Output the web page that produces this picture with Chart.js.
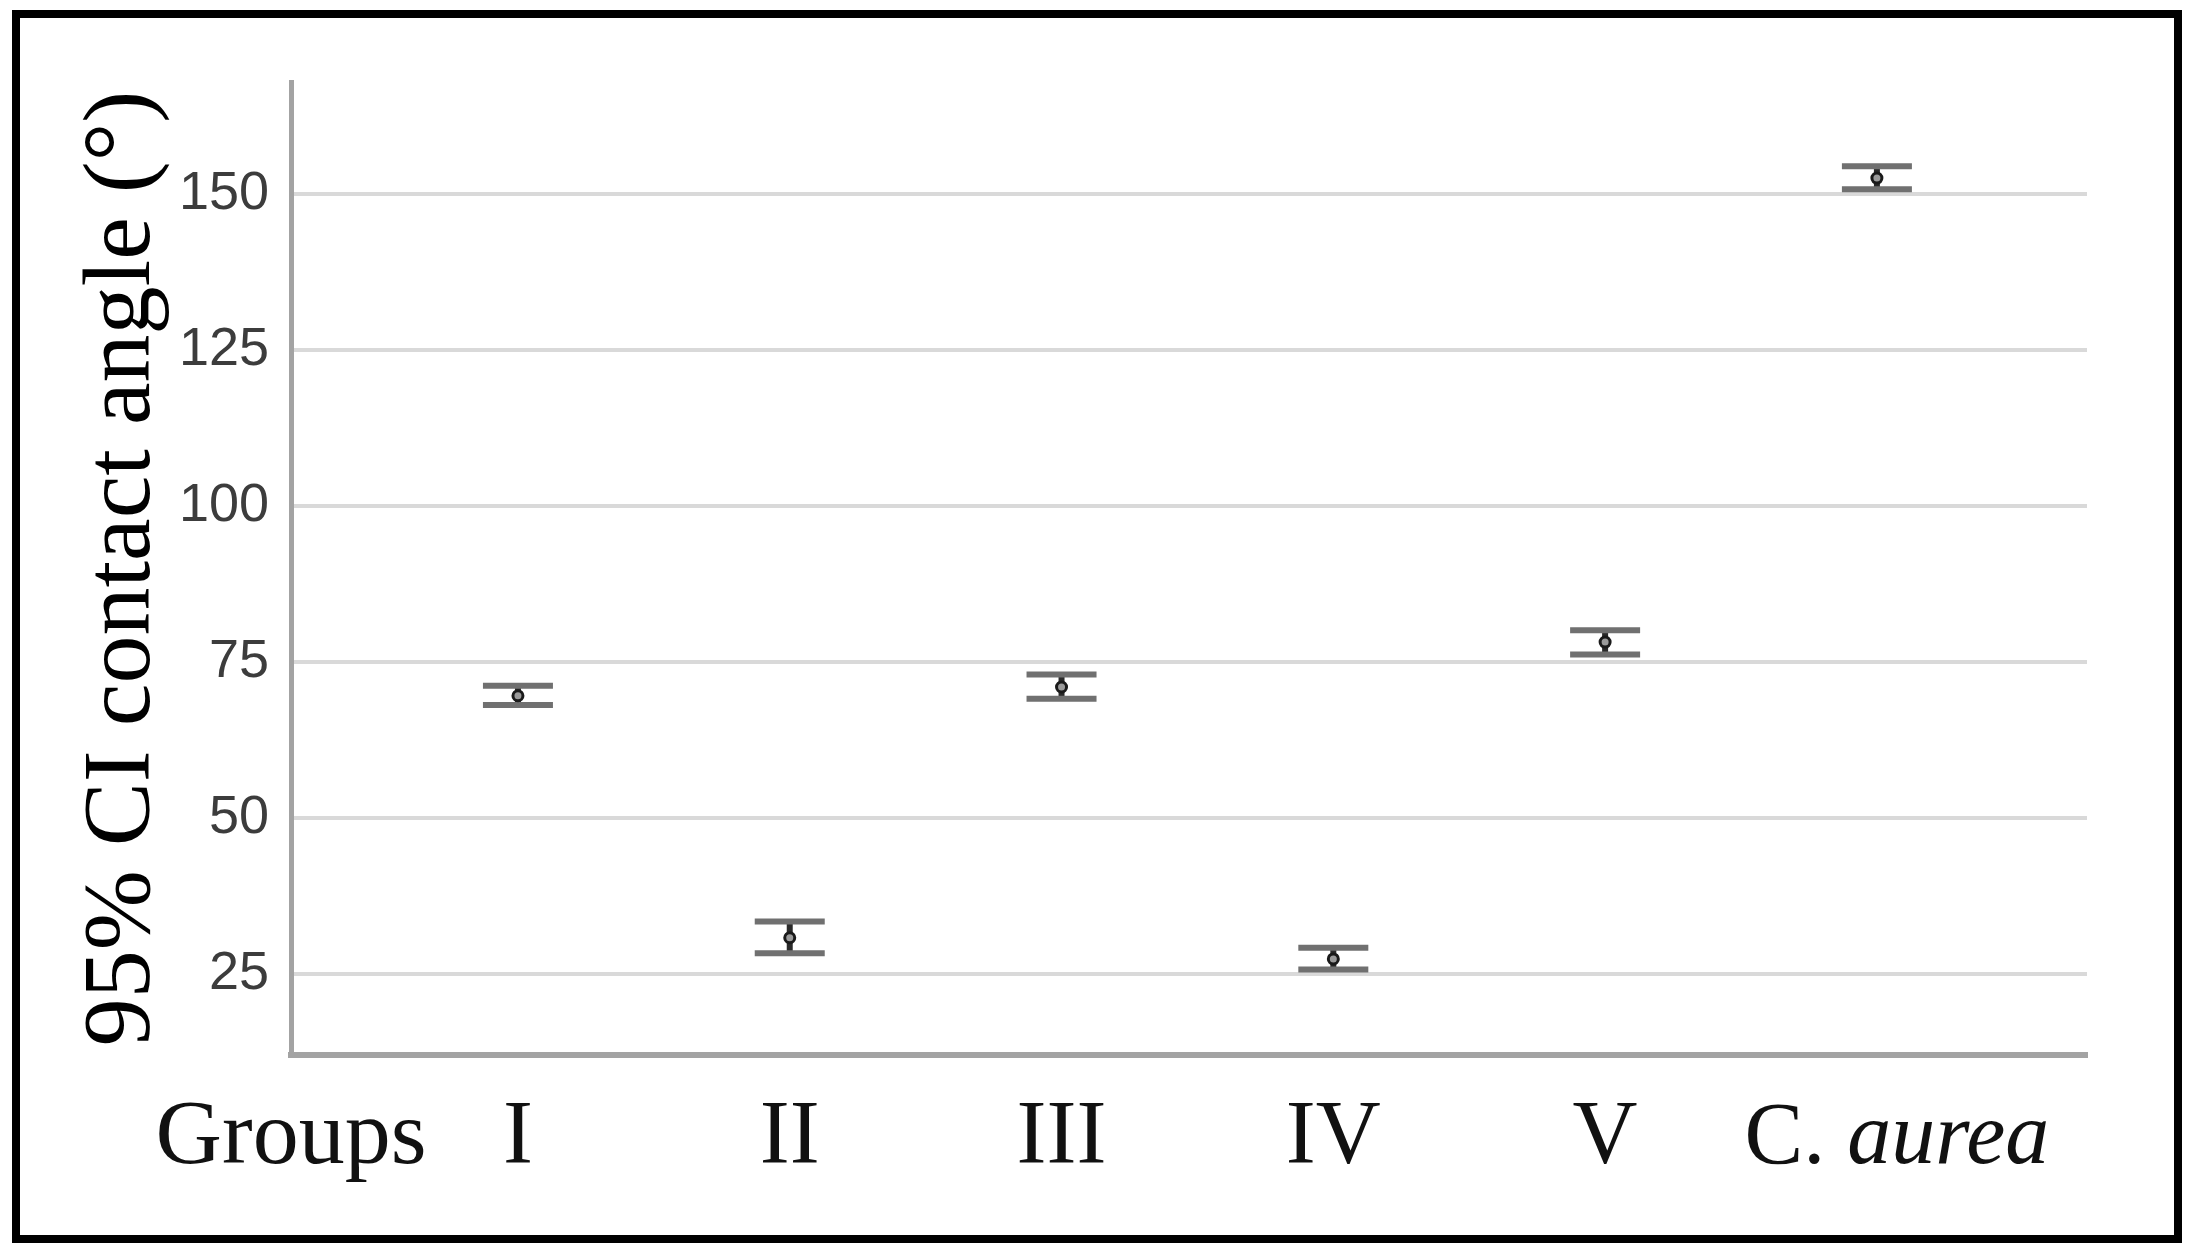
<!DOCTYPE html>
<html>
<head>
<meta charset="utf-8">
<title>95% CI contact angle</title>
<script src="https://cdn.jsdelivr.net/npm/chart.js@4.4.1/dist/chart.umd.min.js"></script>
<style>
  html, body { margin: 0; padding: 0; background: #fff; overflow: hidden; }
  #wrap { width: 2196px; height: 1255px; position: relative; }
</style>
</head>
<body>
<div id="wrap"><canvas id="ciChart"></canvas></div>
<script>
// groups along the x axis
const groups = ["I", "II", "III", "IV", "V", "C. aurea"];
const groupPos = [1, 2, 3, 4, 5, 6];
// mean contact angle and 95% CI bounds (degrees)
const meanAngle = [69.6, 30.8, 71.0, 27.4, 78.2, 152.6];
const ciLower = [68.1, 28.3, 69.1, 25.7, 76.2, 150.8];
const ciUpper = [71.2, 33.4, 73.0, 29.2, 80.1, 154.5];
const yTicks = [25, 50, 75, 100, 125, 150];

const serif = "'Liberation Serif', 'Times New Roman', serif";

// outer black frame round the figure
const framePlugin = {
    id: "frame",
    afterDraw(chart) {
        const ctx = chart.ctx;
        ctx.save();
        ctx.strokeStyle = "#000";
        ctx.lineWidth = 8;
        ctx.strokeRect(16, 14, 2162, 1225);
        ctx.restore();
    }
};

// error bars drawn from the CI arrays
const errorBarPlugin = {
    id: "errorBars",
    beforeDatasetsDraw(chart) {
        const ctx = chart.ctx;
        const xs = chart.scales.x, ys = chart.scales.y;
        const half = 35;
        ctx.save();
        for (let i = 0; i < groupPos.length; i++) {
            const x = xs.getPixelForValue(groupPos[i]);
            const yl = ys.getPixelForValue(ciLower[i]);
            const yu = ys.getPixelForValue(ciUpper[i]);
            ctx.strokeStyle = "#2a2a2a";
            ctx.lineWidth = 6;
            ctx.beginPath();
            ctx.moveTo(x, yl);
            ctx.lineTo(x, yu);
            ctx.stroke();
            ctx.strokeStyle = "#707070";
            ctx.lineWidth = 6;
            ctx.beginPath();
            ctx.moveTo(x - half, yl);
            ctx.lineTo(x + half, yl);
            ctx.moveTo(x - half, yu);
            ctx.lineTo(x + half, yu);
            ctx.stroke();
        }
        ctx.restore();
    }
};

// x labels in serif, "aurea" in italics
const xLabelPlugin = {
    id: "xLabels",
    afterDraw(chart) {
        const ctx = chart.ctx;
        const xs = chart.scales.x;
        const base = 1163;
        ctx.save();
        ctx.fillStyle = "#111";
        ctx.textBaseline = "alphabetic";
        ctx.font = "92px " + serif;
        ctx.textAlign = "center";
        ctx.fillText("Groups", xs.getPixelForValue(xs.min), base);
        for (let i = 0; i < groups.length; i++) {
            const x = xs.getPixelForValue(groupPos[i]);
            const parts = groups[i].split(" ");
            if (parts.length === 1) {
                ctx.textAlign = "center";
                ctx.font = "90px " + serif;
                ctx.fillText(groups[i], x, base);
            } else {
                const a = parts[0] + " ";
                ctx.font = "88px " + serif;
                const wa = ctx.measureText(a).width;
                ctx.font = "italic 88px " + serif;
                const wb = ctx.measureText(parts[1]).width;
                let left = x - (wa + wb) / 2 + 20;
                ctx.textAlign = "left";
                ctx.font = "88px " + serif;
                ctx.fillText(a, left, base);
                ctx.font = "italic 88px " + serif;
                ctx.fillText(parts[1], left + wa, base);
            }
        }
        ctx.restore();
    }
};

const ctx = document.getElementById("ciChart").getContext("2d");
const chart = new Chart(ctx, {
    type: "scatter",
    data: {
        datasets: [{
            data: groupPos.map((x, i) => ({ x: x, y: meanAngle[i] })),
            pointStyle: "circle",
            pointRadius: 5,
            pointBorderWidth: 3,
            pointBorderColor: "#1a1a1a",
            pointBackgroundColor: "#9a9a9a",
            showLine: false
        }]
    },
    options: {
        responsive: true,
        maintainAspectRatio: false,
        animation: false,
        layout: { padding: { left: 30, top: 82, right: 109, bottom: 0 } },
        plugins: {
            legend: { display: false },
            tooltip: { enabled: false }
        },
        scales: {
            x: {
                type: "linear",
                min: 0.165,
                max: 6.773,
                grid: { display: false },
                border: { display: true, color: "#a3a3a3", width: 6 },
                ticks: { display: false },
                afterFit(scale) { scale.height = 200; }
            },
            y: {
                min: 12,
                max: 168,
                afterBuildTicks(scale) {
                    scale.ticks = yTicks.map(v => ({ value: v }));
                },
                grid: { color: "#d9d9d9", lineWidth: 4, drawTicks: false },
                border: { display: true, color: "#a3a3a3", width: 5 },
                ticks: {
                    padding: 22,
                    color: "#3c3c3c",
                    font: { family: "'Liberation Sans Narrow', 'Arial Narrow', 'Liberation Sans', sans-serif", size: 54 }
                },
                title: {
                    display: true,
                    text: "95% CI contact angle (°)",
                    color: "#000",
                    padding: { top: 36, bottom: 0 },
                    font: { family: serif, size: 96 }
                },
                afterFit(scale) { scale.width = 261; }
            }
        }
    },
    plugins: [errorBarPlugin, xLabelPlugin, framePlugin]
});
</script>
</body>
</html>
